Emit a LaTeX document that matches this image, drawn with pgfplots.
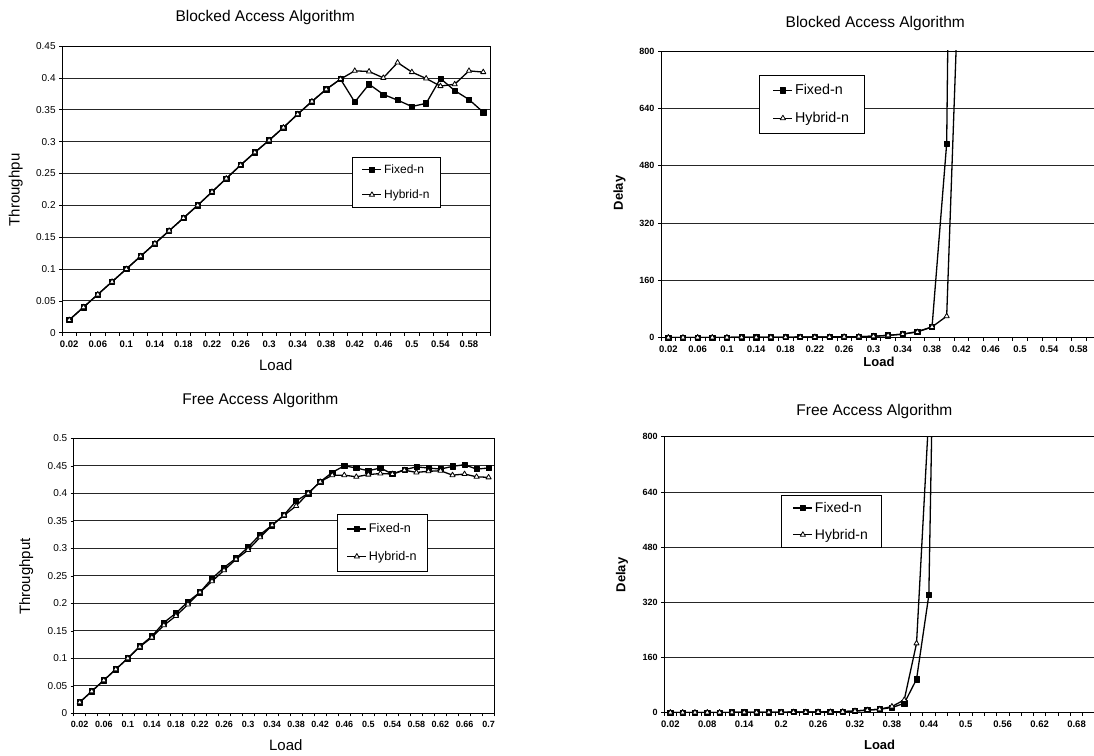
\documentclass[border=0pt]{standalone}
\usepackage{fontspec}
\setmainfont{Liberation Sans}
\usepackage{pgfplots}
\usepackage{pgfplotstable}
\pgfplotsset{compat=1.18}

\pgfplotstableread{
i f h
1 0.020 0.020
2 0.040 0.040
3 0.060 0.060
4 0.080 0.080
5 0.100 0.100
6 0.120 0.120
7 0.140 0.140
8 0.160 0.160
9 0.180 0.180
10 0.200 0.200
11 0.221 0.221
12 0.242 0.242
13 0.263 0.263
14 0.283 0.283
15 0.302 0.302
16 0.322 0.322
17 0.343 0.343
18 0.363 0.363
19 0.382 0.382
20 0.398 0.398
21 0.362 0.411
22 0.390 0.410
23 0.374 0.400
24 0.365 0.424
25 0.355 0.409
26 0.360 0.399
27 0.399 0.387
28 0.380 0.390
29 0.366 0.411
30 0.346 0.409
}\tlData

\pgfplotstableread{
i f h
1 0.5 0.5
2 0.5 0.5
3 0.6 0.6
4 0.7 0.7
5 0.8 0.8
6 0.9 0.9
7 1.0 1.0
8 1.2 1.2
9 1.4 1.4
10 1.6 1.6
11 1.9 1.9
12 2.2 2.2
13 2.6 2.6
14 3.0 3.0
15 4.0 4.0
16 6.5 6.5
17 10 10
18 17 16
19 30 30
20 542 60
21 4170 1217
}\trData

\pgfplotstableread{
i f h
1 0.020 0.020
2 0.040 0.040
3 0.060 0.060
4 0.080 0.080
5 0.100 0.100
6 0.122 0.121
7 0.140 0.138
8 0.165 0.160
9 0.182 0.177
10 0.203 0.198
11 0.220 0.220
12 0.245 0.240
13 0.265 0.260
14 0.282 0.280
15 0.302 0.297
16 0.325 0.320
17 0.342 0.342
18 0.361 0.360
19 0.386 0.377
20 0.400 0.400
21 0.421 0.421
22 0.438 0.433
23 0.450 0.433
24 0.446 0.430
25 0.441 0.434
26 0.446 0.436
27 0.435 0.435
28 0.443 0.442
29 0.448 0.438
30 0.446 0.440
31 0.444 0.441
32 0.449 0.433
33 0.452 0.435
34 0.444 0.430
35 0.446 0.429
}\blData

\pgfplotstableread{
i f h
1 0.5 0.5
2 0.5 0.5
3 0.6 0.6
4 0.7 0.7
5 0.8 0.8
6 0.9 0.9
7 1.0 1.0
8 1.1 1.1
9 1.3 1.3
10 1.5 1.5
11 1.7 1.7
12 1.9 1.9
13 2.2 2.2
14 2.5 2.5
15 3.0 3.0
16 5.0 5.0
17 7.5 7.5
18 10 10
19 15 18
20 27 37
21 97 201
22 341 866
23 2380 6000
}\brData

\newcommand{\fs}[1]{\fontsize{#1}{#1}\selectfont}

\pgfplotsset{
  panel/.style={
    scale only axis, anchor=south west,
    axis line style={black, line width=0.9pt},
    ymajorgrids, grid style={black!85, line width=0.7pt},
    tick align=outside,
    xtick pos=bottom, ytick pos=left,
    major x tick style={draw=none},
    minor x tick style={black, line width=0.6pt},
    major y tick style={black, line width=0.6pt},
    minor tick length=3pt, major tick length=3pt,
    clip marker paths=false,
    legend cell align=left,
    legend style={draw=black, line width=0.6pt, fill=white, anchor=north west},
    legend image code/.code={\draw[mark indices={2}] plot coordinates {(0pt,0pt) (9.5pt,0pt) (19pt,0pt)};},
    title style={anchor=center, yshift=-7.5pt, font=\fs{15.5}},
    xlabel style={anchor=center},
    ylabel style={anchor=center},
    xticklabel style={yshift=-1.5pt},
  },
  fixedS/.style={black, line width=1.3pt, line join=round, mark=square*, mark size=2.6pt, mark options={solid, fill=black, line width=0.6pt}},
  hybS/.style={black, line width=1.3pt, line join=round, mark=triangle*, mark size=3pt, mark options={solid, fill=white, line width=0.8pt}},
}

\begin{document}
\begin{tikzpicture}
\useasboundingbox (0pt,0pt) rectangle (1094pt,755pt);

% ---------- top left ----------
\begin{axis}[panel,
  at={(62.1pt,422.3pt)}, width=428.3pt, height=286.7pt,
  xmin=0.5, xmax=30.5, ymin=0, ymax=0.45,
  xtick={1,3,...,29},
  xticklabels={0.02,0.06,0.1,0.14,0.18,0.22,0.26,0.3,0.34,0.38,0.42,0.46,0.5,0.54,0.58},
  minor xtick={0.5,1.5,...,30.5},
  ytick={0,0.05,0.1,0.15,0.2,0.25,0.3,0.35,0.4,0.45},
  yticklabels={0,0.05,0.1,0.15,0.2,0.25,0.3,0.35,0.4,0.45},
  xticklabel style={font=\fs{9.5}\bfseries},
  yticklabel style={font=\fs{10}},
  title={Blocked Access Algorithm},
  title style={at={(axis description cs:0.474,1.106)}},
  xlabel={Load}, xlabel style={at={(axis description cs:0.499,-0.113)}, font=\fs{15}},
  ylabel={Throughpu}, ylabel style={at={(axis description cs:-0.108,0.498)}, font=\fs{15}},
  legend style={at={(axis description cs:0.678,0.612)}, font=\fs{12}, inner xsep=9pt, inner ysep=5pt, row sep=11pt},
]
\addplot[fixedS] table[x=i, y=f] {\tlData};
\addlegendentry{Fixed-n}
\addplot[hybS] table[x=i, y=h] {\tlData};
\addlegendentry{Hybrid-n}
\end{axis}

% ---------- top right ----------
\begin{axis}[panel,
  at={(661pt,417.3pt)}, width=439.5pt, height=286.7pt,
  xmin=0.5, xmax=30.5, ymin=0, ymax=800,
  xtick={1,3,...,29},
  xticklabels={0.02,0.06,0.1,0.14,0.18,0.22,0.26,0.3,0.34,0.38,0.42,0.46,0.5,0.54,0.58},
  minor xtick={0.5,1.5,...,30.5},
  ytick={0,160,320,480,640,800},
  yticklabels={0,160,320,480,640,800},
  xticklabel style={font=\fs{9.5}\bfseries},
  yticklabel style={font=\fs{9}\bfseries},
  title={Blocked Access Algorithm},
  title style={at={(axis description cs:0.4876,1.102)}},
  xlabel={Load}, xlabel style={at={(axis description cs:0.496,-0.0837)}, font=\fs{13}\bfseries},
  ylabel={Delay}, ylabel style={at={(axis description cs:-0.0947,0.505)}, font=\fs{13}\bfseries},
  legend style={at={(axis description cs:0.224,0.916)}, font=\fs{14.3}, inner xsep=13pt, inner ysep=7pt, row sep=12pt},
]
\addplot[fixedS, mark indices={1,2,3,4,5,6,7,8,9,10,11,12,13,14,15,16,17,18,19,20}] table[x=i, y=f] {\trData};
\addlegendentry{Fixed-n}
\addplot[hybS, mark indices={1,2,3,4,5,6,7,8,9,10,11,12,13,14,15,16,17,18,19,20}] table[x=i, y=h] {\trData};
\addlegendentry{Hybrid-n}
\end{axis}

% ---------- bottom left ----------
\begin{axis}[panel,
  at={(73.7pt,41.7pt)}, width=420.9pt, height=275pt,
  xmin=0.5, xmax=35.5, ymin=0, ymax=0.5,
  xtick={1,3,...,35},
  xticklabels={0.02,0.06,0.1,0.14,0.18,0.22,0.26,0.3,0.34,0.38,0.42,0.46,0.5,0.54,0.58,0.62,0.66,0.7},
  minor xtick={0.5,1.5,...,35.5},
  ytick={0,0.05,0.1,0.15,0.2,0.25,0.3,0.35,0.4,0.45,0.5},
  yticklabels={0,0.05,0.1,0.15,0.2,0.25,0.3,0.35,0.4,0.45,0.5},
  xticklabel style={font=\fs{9}\bfseries},
  yticklabel style={font=\fs{10}},
  title={Free Access Algorithm},
  title style={at={(axis description cs:0.4436,1.143)}},
  xlabel={Load}, xlabel style={at={(axis description cs:0.504,-0.115)}, font=\fs{15}},
  ylabel={Throughput}, ylabel style={at={(axis description cs:-0.113,0.497)}, font=\fs{15}},
  legend style={at={(axis description cs:0.6265,0.7236)}, font=\fs{12.6}, inner xsep=9pt, inner ysep=7pt, row sep=13pt},
]
\addplot[fixedS] table[x=i, y=f] {\blData};
\addlegendentry{Fixed-n}
\addplot[hybS] table[x=i, y=h] {\blData};
\addlegendentry{Hybrid-n}
\end{axis}

% ---------- bottom right ----------
\begin{axis}[panel,
  at={(664.2pt,42.3pt)}, width=430.8pt, height=276pt,
  xmin=0.5, xmax=35.5, ymin=0, ymax=800,
  xtick={1,4,...,34},
  xticklabels={0.02,0.08,0.14,0.2,0.26,0.32,0.38,0.44,0.5,0.56,0.62,0.68},
  minor xtick={0.5,1.5,...,35.5},
  ytick={0,160,320,480,640,800},
  yticklabels={0,160,320,480,640,800},
  xticklabel style={font=\fs{9.5}\bfseries},
  yticklabel style={font=\fs{9}\bfseries},
  title={Free Access Algorithm},
  title style={at={(axis description cs:0.488,1.097)}},
  xlabel={Load}, xlabel style={at={(axis description cs:0.5,-0.117)}, font=\fs{13}\bfseries},
  ylabel={Delay}, ylabel style={at={(axis description cs:-0.098,0.499)}, font=\fs{13}\bfseries},
  legend style={at={(axis description cs:0.272,0.789)}, font=\fs{14}, inner xsep=11pt, inner ysep=5pt, row sep=11pt},
]
\addplot[fixedS, mark indices={1,2,3,4,5,6,7,8,9,10,11,12,13,14,15,16,17,18,19,20,21,22}] table[x=i, y=f] {\brData};
\addlegendentry{Fixed-n}
\addplot[hybS, mark indices={1,2,3,4,5,6,7,8,9,10,11,12,13,14,15,16,17,18,19,20,21}] table[x=i, y=h] {\brData};
\addlegendentry{Hybrid-n}
\end{axis}
\end{tikzpicture}
\end{document}
